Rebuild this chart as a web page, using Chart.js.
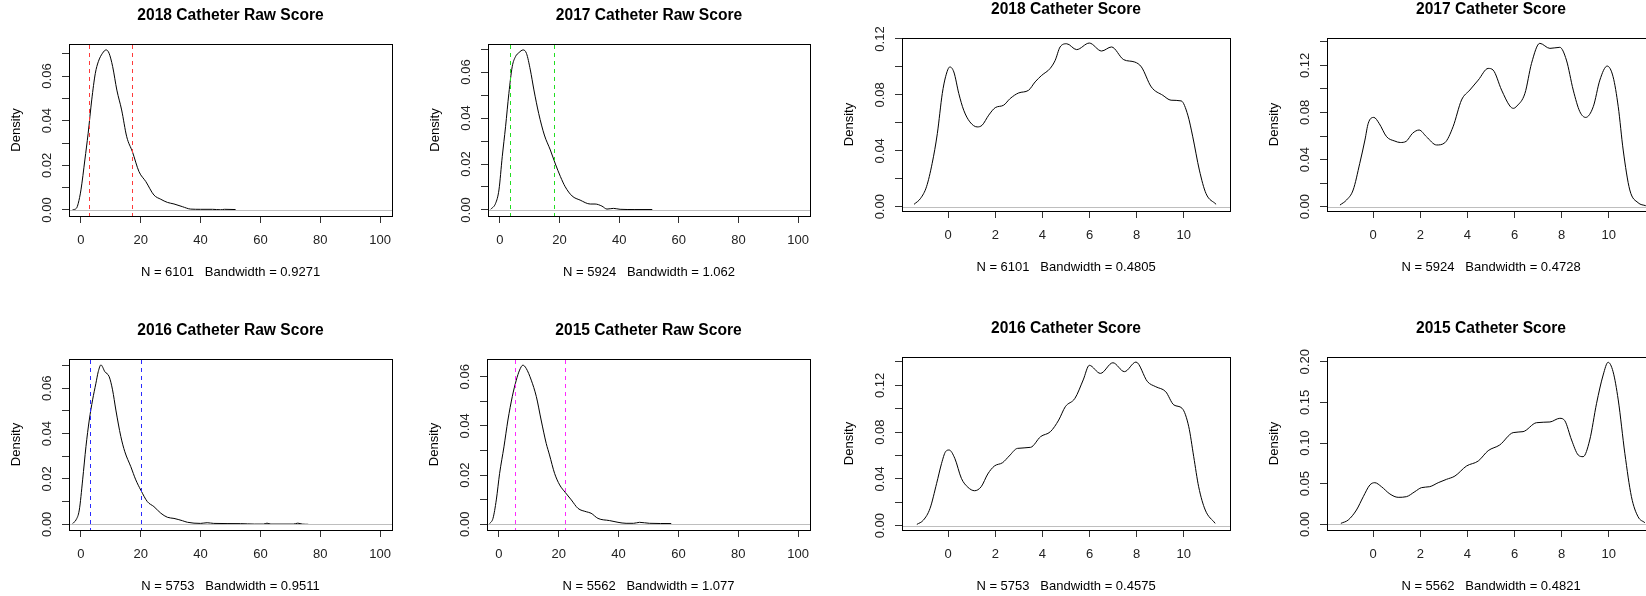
<!DOCTYPE html>
<html>
<head>
<meta charset="utf-8">
<title>Catheter score densities</title>
<script src="https://cdn.jsdelivr.net/npm/chart.js@4/dist/chart.umd.min.js"></script>
<style>
  html, body { margin: 0; padding: 0; background: #fff; }
  #page { position: relative; width: 1646px; height: 596px; overflow: hidden; background: #fff; }
  #page canvas { position: absolute; }
</style>
</head>
<body>
<div id="page"></div>
<script>
// ---------- density estimates (x, density) ----------
const raw2018X = [-2.8, -1.5, -0.9, 0, 1.3, 2.4, 3.6, 4.8, 5.8, 7.2, 8.4, 9.4, 10.6, 12.0, 13.6, 15.3, 17.2, 19.4, 21.7, 24.4, 26.7, 28.9, 31.1, 33.9, 36.7, 40.0, 44.0, 46.7, 48.0, 51.7];
const raw2018Y = [0.0001, 0.0008, 0.003, 0.009, 0.0224, 0.0343, 0.0493, 0.0612, 0.0664, 0.0702, 0.0717, 0.0702, 0.0642, 0.0537, 0.0448, 0.0328, 0.0261, 0.0172, 0.0127, 0.0067, 0.0048, 0.0034, 0.0027, 0.0015, 0.0004, 0.0003, 0.0003, 0.0001, 0.0003, 0.0002];

const raw2017X = [-3.1, -1.45, -0.33, 0.78, 1.89, 3.0, 4.12, 5.23, 6.35, 7.8, 8.9, 10.2, 11.4, 13.0, 14.9, 16.9, 18.6, 20.3, 21.9, 24.2, 26.9, 30.3, 31.9, 34.2, 35.9, 38.1, 40.3, 45.0, 51.1];
const raw2017Y = [0.0003, 0.0029, 0.0087, 0.0232, 0.0362, 0.0507, 0.0623, 0.0667, 0.0684, 0.0696, 0.0681, 0.0609, 0.0522, 0.0420, 0.0326, 0.0261, 0.0200, 0.0145, 0.0101, 0.0061, 0.0043, 0.0026, 0.0026, 0.0017, 0.0004, 0.0007, 0.0003, 0.0002, 0.0002];

const raw2016X = [-2.8, -1.67, -0.56, 0.56, 1.67, 2.78, 3.89, 5.0, 5.78, 6.67, 8.0, 9.44, 10.56, 11.67, 13.33, 14.67, 16.67, 18.33, 20.0, 22.2, 24.4, 26.7, 28.9, 31.1, 33.9, 35.6, 40.0, 42.2, 44.4, 53.3, 58.0, 61.0, 62.2, 63.5, 71.0, 72.5, 74.0, 76.0];
const raw2016Y = [0.0004, 0.0019, 0.0063, 0.0196, 0.0343, 0.046, 0.0549, 0.0622, 0.0673, 0.0703, 0.0673, 0.0651, 0.0593, 0.0504, 0.0387, 0.032, 0.0254, 0.0196, 0.0151, 0.01, 0.0078, 0.0049, 0.0031, 0.0026, 0.0016, 0.0009, 0.0004, 0.0007, 0.0004, 0.0003, 0.0001, 0.0001, 0.0005, 0.0001, 0.0001, 0.0005, 0.0001, 0.0000];

const raw2015X = [-3.1, -2.0, -0.89, 0.22, 1.67, 3.0, 4.45, 5.79, 6.9, 8.0, 9.1, 10.8, 12.5, 14.1, 15.8, 16.9, 18.6, 20.3, 22.2, 24.2, 26.4, 29.2, 30.8, 33.1, 37.0, 39.8, 42.5, 45.0, 47.0, 50.3, 57.6];
const raw2015Y = [0.0003, 0.0024, 0.0099, 0.0207, 0.0315, 0.0424, 0.0519, 0.0586, 0.0627, 0.0647, 0.0634, 0.0586, 0.0519, 0.0424, 0.0329, 0.0282, 0.0207, 0.016, 0.0129, 0.0099, 0.0065, 0.0051, 0.0045, 0.0024, 0.0015, 0.0008, 0.0004, 0.0004, 0.0008, 0.0004, 0.0003];

const score2018X = [-1.45, -1.17, -0.92, -0.68, -0.46, -0.25, -0.11, 0.07, 0.24, 0.45, 0.66, 0.92, 1.23, 1.44, 1.72, 2.0, 2.35, 2.63, 2.99, 3.41, 3.69, 3.97, 4.32, 4.54, 4.75, 5.03, 5.45, 5.99, 6.51, 6.93, 7.45, 7.92, 8.2, 8.62, 9.11, 9.46, 9.89, 10.17, 10.38, 10.66, 10.94, 11.37];
const score2018Y = [0.0017, 0.006, 0.0143, 0.031, 0.0524, 0.081, 0.093, 0.1, 0.0964, 0.081, 0.069, 0.0607, 0.0571, 0.0583, 0.0655, 0.0709, 0.0726, 0.0774, 0.0814, 0.0833, 0.0893, 0.094, 0.0988, 0.1047, 0.1143, 0.1166, 0.1124, 0.1171, 0.1114, 0.1143, 0.1052, 0.1035, 0.1, 0.0857, 0.0797, 0.0762, 0.0757, 0.0655, 0.05, 0.0262, 0.0095, 0.0017];

const score2017X = [-1.41, -1.13, -0.85, -0.57, -0.35, -0.21, 0.03, 0.25, 0.57, 0.92, 1.15, 1.4, 1.67, 1.95, 2.26, 2.69, 3.04, 3.39, 3.75, 4.1, 4.46, 4.88, 5.09, 5.45, 5.8, 5.95, 6.1, 6.44, 6.72, 7.07, 7.5, 7.92, 8.2, 8.49, 8.77, 9.02, 9.34, 9.62, 9.93, 10.18, 10.4, 10.61, 10.89, 11.24, 11.57];
const score2017Y = [0.0014, 0.0057, 0.0142, 0.0368, 0.0566, 0.0708, 0.0758, 0.0708, 0.0594, 0.0557, 0.0545, 0.0555, 0.0623, 0.0651, 0.0594, 0.0524, 0.0543, 0.0679, 0.0906, 0.099, 0.1075, 0.1174, 0.116, 0.099, 0.0855, 0.0835, 0.0855, 0.0962, 0.1217, 0.1387, 0.1344, 0.1353, 0.1245, 0.099, 0.0807, 0.0758, 0.0849, 0.1075, 0.1194, 0.1104, 0.0849, 0.0481, 0.0142, 0.0034, 0.0008];

const score2016X = [-1.33, -1.05, -0.77, -0.49, -0.28, -0.11, 0.04, 0.28, 0.56, 0.84, 1.12, 1.4, 1.68, 1.96, 2.31, 2.59, 2.94, 3.5, 3.92, 4.34, 4.69, 4.97, 5.38, 5.73, 5.99, 6.46, 6.99, 7.48, 7.97, 8.46, 8.81, 9.23, 9.58, 9.93, 10.21, 10.42, 10.63, 10.91, 11.33];
const score2016Y = [0.0011, 0.0048, 0.0148, 0.0362, 0.0533, 0.0633, 0.0647, 0.0576, 0.0405, 0.0328, 0.0299, 0.0333, 0.0442, 0.051, 0.0539, 0.0596, 0.0661, 0.067, 0.0761, 0.0804, 0.0903, 0.1017, 0.1089, 0.1246, 0.1371, 0.1302, 0.1393, 0.1317, 0.1399, 0.1231, 0.1188, 0.1146, 0.1032, 0.1003, 0.0846, 0.059, 0.0333, 0.0134, 0.002];

const score2015X = [-1.37, -1.06, -0.71, -0.42, -0.14, 0.07, 0.35, 0.71, 1.06, 1.41, 1.77, 2.05, 2.4, 2.76, 3.11, 3.47, 3.96, 4.46, 4.88, 5.37, 5.94, 6.36, 6.93, 7.5, 7.92, 8.13, 8.42, 8.7, 8.91, 9.19, 9.48, 9.76, 9.97, 10.18, 10.4, 10.68, 10.96, 11.24, 11.53];
const score2015Y = [0.0012, 0.0053, 0.0176, 0.034, 0.0484, 0.0512, 0.0463, 0.0373, 0.0332, 0.034, 0.0402, 0.0451, 0.0463, 0.0512, 0.0553, 0.0594, 0.0717, 0.0779, 0.0906, 0.0976, 0.1128, 0.114, 0.125, 0.1259, 0.1304, 0.1275, 0.1037, 0.0853, 0.0832, 0.1037, 0.1488, 0.1837, 0.1993, 0.1878, 0.153, 0.0873, 0.034, 0.0094, 0.002];

// ---------- cut-off markers on the raw scores ----------
const raw2018Cuts = [2.75, 17.1];
const raw2017Cuts = [3.4, 18.3];
const raw2016Cuts = [3.0, 20.0];
const raw2015Cuts = [5.2, 22.1];

// ---------- tick values and labels ----------
const rawXTicks = [0, 20, 40, 60, 80, 100];
const rawXLabels = ['0', '20', '40', '60', '80', '100'];
const scoreXTicks = [0, 2, 4, 6, 8, 10];
const scoreXLabels = ['0', '2', '4', '6', '8', '10'];

const yTicks007 = [0, 0.01, 0.02, 0.03, 0.04, 0.05, 0.06, 0.07];
const yLabels007 = ['0.00', '', '0.02', '', '0.04', '', '0.06', ''];
const yTicks006 = [0, 0.01, 0.02, 0.03, 0.04, 0.05, 0.06];
const yLabels006 = ['0.00', '', '0.02', '', '0.04', '', '0.06'];
const yTicks012 = [0, 0.02, 0.04, 0.06, 0.08, 0.10, 0.12];
const yLabels012 = ['0.00', '', '0.04', '', '0.08', '', '0.12'];
const yTicks014 = [0, 0.02, 0.04, 0.06, 0.08, 0.10, 0.12, 0.14];
const yLabels014 = ['0.00', '', '0.04', '', '0.08', '', '0.12', ''];
const yTicks020 = [0, 0.05, 0.10, 0.15, 0.20];
const yLabels020 = ['0.00', '0.05', '0.10', '0.15', '0.20'];

// ---------- panel text ----------
const titles = ['2018 Catheter Raw Score', '2017 Catheter Raw Score', '2018 Catheter Score', '2017 Catheter Score',
                '2016 Catheter Raw Score', '2015 Catheter Raw Score', '2016 Catheter Score', '2015 Catheter Score'];
const sampleSizes = [6101, 5924, 6101, 5924, 5753, 5562, 5753, 5562];
const bandwidths = ['0.9271', '1.062', '0.4805', '0.4728', '0.9511', '1.077', '0.4575', '0.4821'];

// ---------- layout of the 2 x 4 grid (plot box in page pixels, axis ranges) ----------
const panels = [
  { xs: raw2018X, ys: raw2018Y, cuts: raw2018Cuts, cutColor: '#ff3a3a', box: [69, 44, 392, 216],  xr: [-4, 104], yr: [-0.00269, 0.07433], xt: rawXTicks, xl: rawXLabels, yt: yTicks007, yl: yLabels007 },
  { xs: raw2017X, ys: raw2017Y, cuts: raw2017Cuts, cutColor: '#22dd22', box: [488, 44, 810, 216], xr: [-4, 104], yr: [-0.00261, 0.07217], xt: rawXTicks, xl: rawXLabels, yt: yTicks007, yl: yLabels007 },
  { xs: score2018X, ys: score2018Y, cuts: [], box: [902, 38, 1230, 211],  xr: [-1.96, 11.96], yr: [-0.00307, 0.1207], xt: scoreXTicks, xl: scoreXLabels, yt: yTicks012, yl: yLabels012 },
  { xs: score2017X, ys: score2017Y, cuts: [], box: [1327, 38, 1655, 211], xr: [-1.96, 11.96], yr: [-0.00365, 0.1432], xt: scoreXTicks, xl: scoreXLabels, yt: yTicks014, yl: yLabels014 },
  { xs: raw2016X, ys: raw2016Y, cuts: raw2016Cuts, cutColor: '#2a2aff', box: [69, 359, 392, 530],  xr: [-4, 104], yr: [-0.00251, 0.0729], xt: rawXTicks, xl: rawXLabels, yt: yTicks007, yl: yLabels007 },
  { xs: raw2015X, ys: raw2015Y, cuts: raw2015Cuts, cutColor: '#ff2aff', box: [487, 359, 810, 530], xr: [-4, 104], yr: [-0.00232, 0.0672], xt: rawXTicks, xl: rawXLabels, yt: yTicks006, yl: yLabels006 },
  { xs: score2016X, ys: score2016Y, cuts: [], box: [902, 357, 1230, 530],  xr: [-1.96, 11.96], yr: [-0.00368, 0.1442], xt: scoreXTicks, xl: scoreXLabels, yt: yTicks014, yl: yLabels014 },
  { xs: score2015X, ys: score2015Y, cuts: [], box: [1327, 357, 1655, 530], xr: [-1.96, 11.96], yr: [-0.0070, 0.2058], xt: scoreXTicks, xl: scoreXLabels, yt: yTicks020, yl: yLabels020 }
];

// space reserved around each plot box
const Y_AXIS_W = 62;   // tick labels + "Density"
const TOP_H = 44;      // main title
const X_AXIS_H = 66;   // tick labels + N / bandwidth line
const RIGHT_PAD = 20;

Chart.defaults.font.family = "'Liberation Sans', Arial, Helvetica, sans-serif";
Chart.defaults.font.size = 13;
Chart.defaults.color = '#000';

// box, zero line and dashed cut-off lines, in base-graphics drawing order
const densityFrame = {
  id: 'densityFrame',
  afterDatasetsDraw(chart, args, opts) {
    const { ctx, chartArea: a, scales: { x, y } } = chart;
    const l = Math.round(a.left), r = Math.round(a.right), t = Math.round(a.top), b = Math.round(a.bottom);
    ctx.save();
    ctx.lineWidth = 1;
    const y0 = Math.round(y.getPixelForValue(0)) + 0.5;
    ctx.strokeStyle = '#bebebe';
    ctx.beginPath(); ctx.moveTo(l, y0); ctx.lineTo(r, y0); ctx.stroke();
    ctx.strokeStyle = '#000';
    ctx.strokeRect(l + 0.5, t + 0.5, r - l, b - t);
    ctx.strokeStyle = opts.color || '#f00';
    ctx.setLineDash([4, 4]);
    (opts.values || []).forEach(v => {
      const px = Math.round(x.getPixelForValue(v)) + 0.5;
      ctx.beginPath(); ctx.moveTo(px, t + 1); ctx.lineTo(px, b); ctx.stroke();
    });
    ctx.restore();
  }
};

const page = document.getElementById('page');

panels.forEach((p, i) => {
  const [L, T, R, B] = p.box;
  const w = (R - L) + Y_AXIS_W + RIGHT_PAD;
  const h = (B - T) + TOP_H + X_AXIS_H;
  const cv = document.createElement('canvas');
  cv.width = w; cv.height = h;
  cv.style.width = w + 'px'; cv.style.height = h + 'px';
  cv.style.left = (L - Y_AXIS_W) + 'px';
  cv.style.top = (T - TOP_H) + 'px';
  page.appendChild(cv);

  new Chart(cv, {
    type: 'line',
    data: {
      datasets: [{
        data: p.xs.map((x, k) => ({ x: x, y: p.ys[k] })),
        borderColor: '#000',
        borderWidth: 1,
        pointRadius: 0,
        fill: false,
        cubicInterpolationMode: 'monotone'
      }]
    },
    options: {
      responsive: false,
      animation: false,
      events: [],
      layout: { padding: { left: 0, right: RIGHT_PAD, top: 0, bottom: 0 } },
      plugins: {
        legend: { display: false },
        tooltip: { enabled: false },
        title: {
          display: true,
          text: titles[i],
          fullSize: false,
          color: '#000',
          font: { size: 15.6, weight: 'bold' },
          padding: { top: 6.4, bottom: 18.9 }
        },
        densityFrame: { values: p.cuts, color: p.cutColor }
      },
      scales: {
        x: {
          type: 'linear',
          min: p.xr[0], max: p.xr[1],
          bounds: 'data',
          border: { display: false },
          grid: { drawOnChartArea: false, drawTicks: true, tickLength: 7, color: '#333' },
          ticks: { padding: 9.5, color: '#222', maxRotation: 0, autoSkip: false, callback: (v, k) => p.xl[k] },
          afterBuildTicks: s => { s.ticks = p.xt.map(v => ({ value: v })); },
          afterFit: s => { s.height = X_AXIS_H; },
          title: {
            display: true,
            text: 'N = ' + sampleSizes[i] + '   Bandwidth = ' + bandwidths[i],
            color: '#000',
            padding: { top: 0, bottom: 1.7 }
          }
        },
        y: {
          type: 'linear',
          min: p.yr[0], max: p.yr[1],
          bounds: 'data',
          border: { display: false },
          grid: { drawOnChartArea: false, drawTicks: true, tickLength: 7, color: '#333' },
          ticks: { padding: 2, color: '#222', minRotation: 90, maxRotation: 90, crossAlign: 'center', autoSkip: false, callback: (v, k) => p.yl[k] },
          afterBuildTicks: s => { s.ticks = p.yt.map(v => ({ value: v })); },
          afterFit: s => { s.width = Y_AXIS_W; },
          title: {
            display: true,
            text: 'Density',
            color: '#000',
            padding: { top: 1.4, bottom: 0 }
          }
        }
      }
    },
    plugins: [densityFrame]
  });
});
</script>
</body>
</html>
